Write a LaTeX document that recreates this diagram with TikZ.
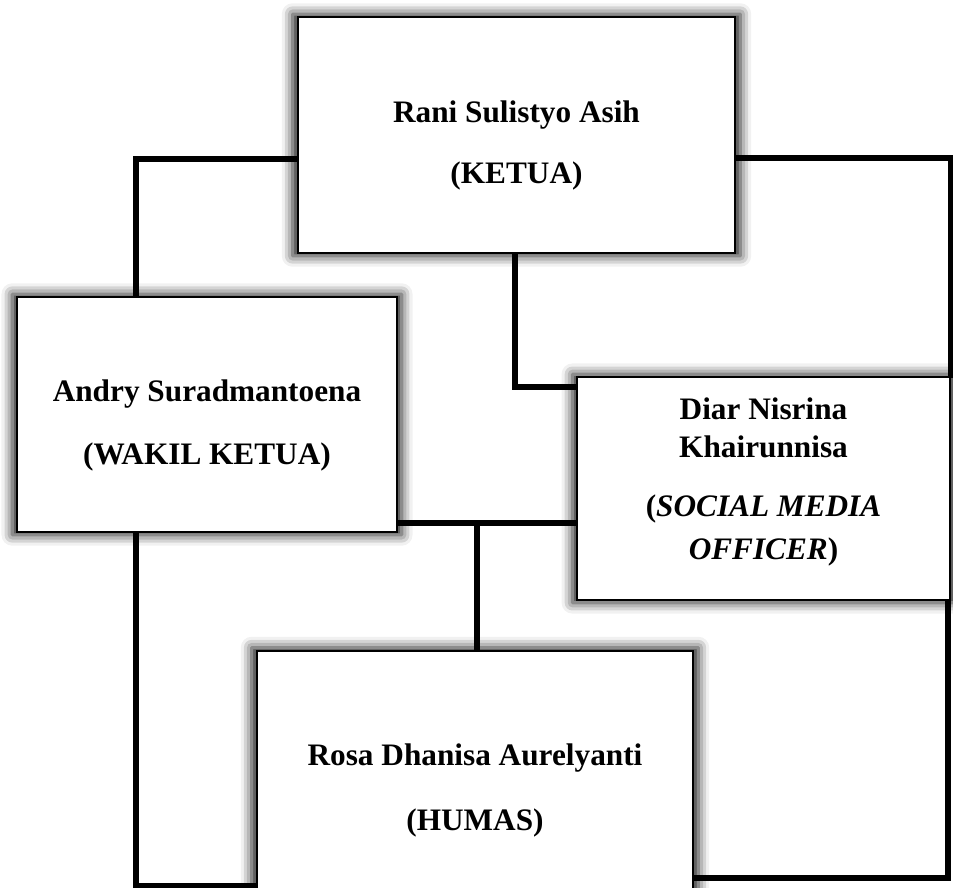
\documentclass[tikz,border=0pt]{standalone}
\usepackage{fontspec}
\setmainfont{Liberation Serif}
\usetikzlibrary{positioning}
\usetikzlibrary{shadows.blur}
\tikzset{
  member/.style={
    draw=black, line width=1.5pt, fill=white,
    align=center, inner sep=0pt,
    font=\fontsize{17.8pt}{21.5pt}\selectfont\bfseries,
    blur shadow={shadow xshift=0pt, shadow yshift=0pt,
      shadow blur radius=6pt, shadow opacity=90, shadow scale=1.025}
  },
  link/.style={line width=3.1pt, line cap=rect}
}

\begin{document}
\begin{tikzpicture}[x=0.02cm, y=-0.02cm]
  \useasboundingbox (0,0) rectangle (953,888);

  \node[member, minimum width=8.74cm, minimum height=4.72cm] (ketua) at (516.5,135)
    {\rule{0pt}{24pt}Rani Sulistyo Asih\\[13.5pt] (KETUA)};
  \node[member, minimum width=7.6cm, minimum height=4.7cm] (wakil) at (207,414.5)
    {\rule{0pt}{25pt}Andry Suradmantoena\\[14pt] (WAKIL KETUA)};
  \node[member, minimum width=7.46cm, minimum height=4.46cm] (diar) at (763.5,488.5)
    {Diar Nisrina\\ Khairunnisa\\[12pt] (\textit{SOCIAL MEDIA}\\[3.4pt] \textit{OFFICER})\rule[-11pt]{0pt}{1pt}};
  \node[member, minimum width=8.72cm, minimum height=5.58cm] (rosa) at (475,790.5)
    {Rosa Dhanisa Aurelyanti\\[15.5pt] (HUMAS)};

  \coordinate (tee) at (477,523);

  % garis penghubung
  \draw[link] (ketua.west |- 0,159) -| (wakil.north -| 136,0);
  \draw[link] (ketua.south -| 515,0) |- (diar.west |- 0,387);
  \draw[link] (ketua.east |- 0,158) -| (diar.north -| 951,0);
  \draw[link] (wakil.east |- tee) -- (diar.west |- tee);
  \draw[link] (tee) -- (rosa.north -| tee);
  \draw[link] (wakil.south -| 136,0) |- (rosa.west |- 0,886);
  \draw[link] (diar.south -| 948,0) |- (rosa.east |- 0,878);
\end{tikzpicture}
\end{document}
